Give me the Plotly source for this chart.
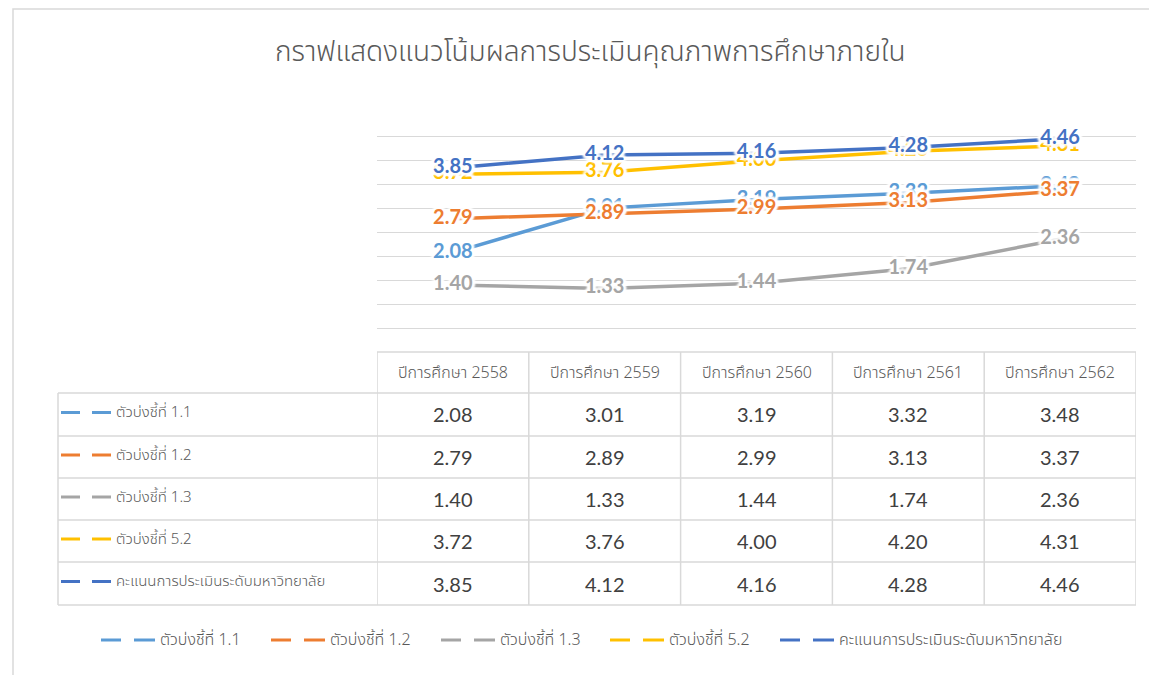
import plotly.graph_objects as go

# ---------------- data ----------------
years = ["ปีการศึกษา 2558", "ปีการศึกษา 2559", "ปีการศึกษา 2560", "ปีการศึกษา 2561", "ปีการศึกษา 2562"]
series_names = ["ตัวบ่งชี้ที่ 1.1", "ตัวบ่งชี้ที่ 1.2", "ตัวบ่งชี้ที่ 1.3", "ตัวบ่งชี้ที่ 5.2",
                "คะแนนการประเมินระดับมหาวิทยาลัย"]
ind_1_1 = [2.08, 3.01, 3.19, 3.32, 3.48]
ind_1_2 = [2.79, 2.89, 2.99, 3.13, 3.37]
ind_1_3 = [1.40, 1.33, 1.44, 1.74, 2.36]
ind_5_2 = [3.72, 3.76, 4.00, 4.20, 4.31]
univ = [3.85, 4.12, 4.16, 4.28, 4.46]
series_values = [ind_1_1, ind_1_2, ind_1_3, ind_5_2, univ]
colors = ["#5B9BD5", "#ED7D31", "#A5A5A5", "#FFC000", "#4472C4"]
title_text = "กราฟแสดงแนวโน้มผลการประเมินคุณภาพการศึกษาภายใน"

# ---------------- geometry helpers ----------------
OFF = 8  # page body margin
W, H = 1157 - OFF, 675 - OFF
L, R, T, B = 377 - OFF, 1136 - OFF, 113 - OFF, 352 - OFF


def px(X):
    return (X - OFF - L) / (R - L)


def py(Y):
    return (B - (Y - OFF)) / (B - T)


THAI = "Noto Sans Thai, Noto Sans Thai UI, Tahoma, Leelawadee UI, sans-serif"
NUM = "Lato, Calibri, Carlito, sans-serif"
GRID = "#D9D9D9"
TXT = "#595959"

xs = list(range(len(years)))
fig = go.Figure()

# lines
for name, vals, col in zip(series_names, series_values, colors):
    fig.add_trace(go.Scatter(x=xs, y=vals, mode="lines", name=name,
                             line=dict(color=col, width=3.5), showlegend=False,
                             hoverinfo="skip"))

glow = ", ".join(f"{dx}px {dy}px 2px #fff" for dx, dy in
                 [(3, 0), (-3, 0), (0, 3), (0, -3), (2, 2), (-2, 2), (2, -2), (-2, -2), (0, 0)])
# data labels on top of all lines
for name, vals, col in zip(series_names, series_values, colors):
    fig.add_trace(go.Scatter(x=xs, y=vals, mode="text", texttemplate="%{y:.2f}",
                             textposition="middle center", showlegend=False,
                             textfont=dict(family=NUM, size=20, color=col, weight="bold",
                                           shadow=glow),
                             hoverinfo="skip"))

shapes = []
annotations = []

# outer chart border
shapes.append(dict(type="rect", xref="paper", yref="paper", x0=px(13), x1=px(1175),
                   y0=py(9), y1=py(690), line=dict(color=GRID, width=1.5), layer="below"))

# table geometry
row_lines = [393, 436, 478, 520, 562, 605]
head_top = 352
tab_left = 58

# horizontal lines
shapes.append(dict(type="line", xref="x", yref="paper", x0=-0.5, x1=len(years) - 0.5,
                   y0=py(head_top), y1=py(head_top), line=dict(color=GRID, width=1.5)))
for yy in row_lines:
    shapes.append(dict(type="line", xref="paper", yref="paper", x0=px(tab_left), x1=1,
                       y0=py(yy), y1=py(yy), line=dict(color=GRID, width=1.5)))
# vertical lines
shapes.append(dict(type="line", xref="paper", yref="paper", x0=px(tab_left), x1=px(tab_left),
                   y0=py(row_lines[0]), y1=py(row_lines[-1]), line=dict(color=GRID, width=1.5)))
for i in range(len(years) + 1):
    shapes.append(dict(type="line", xref="x", yref="paper", x0=i - 0.5, x1=i - 0.5,
                       y0=py(head_top), y1=py(row_lines[-1]), line=dict(color=GRID, width=1.5)))

# header texts
for i, yr in enumerate(years):
    annotations.append(dict(x=i, y=py((head_top + row_lines[0]) / 2), xref="x", yref="paper",
                            text=yr, showarrow=False, xanchor="center", yanchor="middle",
                            font=dict(family=THAI, size=16, color=TXT, weight=300)))

# rows
for r, (name, vals, col) in enumerate(zip(series_names, series_values, colors)):
    yc = (row_lines[r] + row_lines[r + 1]) / 2
    # legend key in row
    for a, b in [(61, 80), (92, 111)]:
        shapes.append(dict(type="line", xref="paper", yref="paper", x0=px(a), x1=px(b),
                           y0=py(yc - 2), y1=py(yc - 2), line=dict(color=col, width=3)))
    annotations.append(dict(x=px(114), y=py(yc - 2), xref="paper", yref="paper", text=name,
                            showarrow=False, xanchor="left", yanchor="middle",
                            font=dict(family=THAI, size=15, color=TXT, weight=300)))
    for i, v in enumerate(vals):
        annotations.append(dict(x=i, y=py(yc), xref="x", yref="paper", text=f"{v:.2f}",
                                showarrow=False, xanchor="center", yanchor="middle",
                                font=dict(family=NUM, size=20, color="#404040")))

# bottom legend
leg_starts = [101, 271, 441, 610, 780]
leg_y = 640
for x0, name, col in zip(leg_starts, series_names, colors):
    for a, b in [(0, 20), (33, 54)]:
        shapes.append(dict(type="line", xref="paper", yref="paper", x0=px(x0 + a), x1=px(x0 + b),
                           y0=py(leg_y), y1=py(leg_y), line=dict(color=col, width=3)))
    annotations.append(dict(x=px(x0 + 57), y=py(leg_y), xref="paper", yref="paper", text=name,
                            showarrow=False, xanchor="left", yanchor="middle",
                            font=dict(family=THAI, size=16, color=TXT, weight=300)))

# title
annotations.append(dict(x=px(590), y=py(52), xref="paper", yref="paper", text=title_text,
                        showarrow=False, xanchor="center", yanchor="middle",
                        font=dict(family=THAI, size=28, color=TXT, weight=300)))

fig.update_layout(
    width=W, height=H,
    margin=dict(l=L, r=W - R, t=T, b=H - B, pad=0),
    paper_bgcolor="white", plot_bgcolor="white",
    showlegend=False,
    xaxis=dict(range=[-0.5, len(years) - 0.5], showgrid=False, zeroline=False,
               showticklabels=False, ticks="", showline=False, fixedrange=True),
    yaxis=dict(range=[0, 5], dtick=0.5, showgrid=True, gridcolor=GRID, gridwidth=1,
               zeroline=False, showticklabels=False, ticks="", showline=False, fixedrange=True),
    shapes=shapes,
    annotations=annotations,
)

fig.write_html("out.html")
